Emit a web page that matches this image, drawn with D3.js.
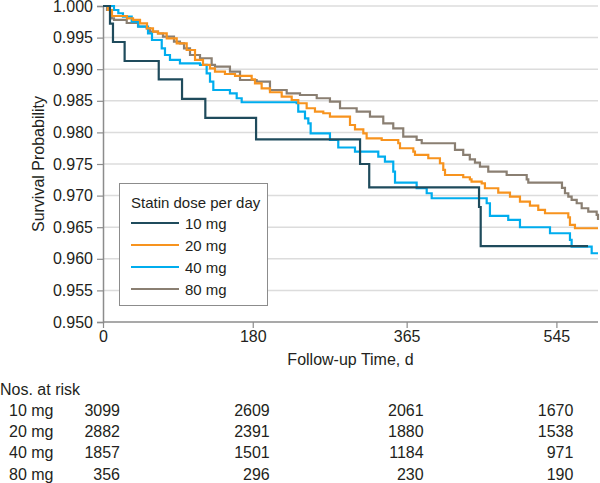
<!DOCTYPE html>
<html><head><meta charset="utf-8">
<script src="https://cdn.jsdelivr.net/npm/d3@7"></script>
<style>
body{margin:0;background:#fff;}
text{font-family:"Liberation Sans",Arial,sans-serif;fill:#231f20;}
</style></head>
<body><svg id="c" width="600" height="483"></svg>
<script>
const doses = ["10 mg", "20 mg", "40 mg", "80 mg"];
const colors = ["#1f4b5c", "#f7931e", "#00adee", "#8a7f72"];
const xTicks = [0, 180, 365, 545];
const yTicks = [0.950, 0.955, 0.960, 0.965, 0.970, 0.975, 0.980, 0.985, 0.990, 0.995, 1.000];

const t10 = [0, 8.4, 12, 26, 67, 95, 123, 184, 309, 320, 452, 454, 583];
const s10 = [1, 0.9972, 0.9943, 0.9913, 0.9884, 0.9853, 0.9823, 0.9789, 0.9750, 0.9713, 0.9682, 0.9620, 0.9620];

const t20 = [0, 6, 10.8, 28.8, 36.1, 44.5, 52.9, 60.1, 66.1, 76.6, 88.6, 100.6, 110.6, 120.2, 128.6, 134.6, 146.6, 158.7, 178.7, 182.7, 190.7, 200.7, 214.8, 226.8, 234.7, 244.8, 254.8, 264.8, 272.8, 296.9, 302.9, 312.9, 316.9, 335, 354.9, 357, 373, 375, 391, 405, 409, 411.1, 433, 441, 443, 455.2, 459.1, 475.1, 489.2, 501.2, 513.2, 523.2, 531.3, 559.3, 561.3, 567.3, 595];
const s20 = [1, 0.99937, 0.99842, 0.99805, 0.99779, 0.99726, 0.99647, 0.99593, 0.99568, 0.99489, 0.99410, 0.99304, 0.99146, 0.99067, 0.99014, 0.98961, 0.98924, 0.98893, 0.98840, 0.98777, 0.98698, 0.98635, 0.98565, 0.98513, 0.98461, 0.98382, 0.98328, 0.98303, 0.98249, 0.98117, 0.98049, 0.97986, 0.97907, 0.97880, 0.97828, 0.97749, 0.97695, 0.97643, 0.97591, 0.97512, 0.97406, 0.97326, 0.97290, 0.97258, 0.97220, 0.97195, 0.97116, 0.97046, 0.96983, 0.96904, 0.96841, 0.96773, 0.96721, 0.96657, 0.96536, 0.96483, 0.96483];

const t40 = [0, 13.2, 18.4, 24, 34.5, 42.4, 54.1, 58.9, 70.6, 74.5, 80.5, 92.5, 116.6, 124.6, 128.6, 132.6, 152.6, 160.7, 166.7, 232.8, 234.7, 242.8, 246.8, 249.6, 272.8, 282.8, 302.9, 330.9, 338.9, 348.9, 351, 377, 389.1, 395.1, 461.2, 465.1, 487.1, 501.2, 537.3, 561.3, 563.3, 587.4, 595];
const s40 = [1, 0.99937, 0.99885, 0.99831, 0.99752, 0.99673, 0.99568, 0.99462, 0.99331, 0.99225, 0.99146, 0.99093, 0.99067, 0.98935, 0.98802, 0.98671, 0.98619, 0.98540, 0.98477, 0.98461, 0.98328, 0.98223, 0.98144, 0.97986, 0.97880, 0.97761, 0.97695, 0.97616, 0.97537, 0.97379, 0.97205, 0.97116, 0.97037, 0.96958, 0.96879, 0.96678, 0.96615, 0.96499, 0.96404, 0.96298, 0.96192, 0.96088, 0.96088];

const t80 = [0, 4.8, 10.5, 13.2, 28.5, 42.1, 52.5, 56.5, 66.1, 72.1, 85.3, 92.5, 97.4, 104.6, 116.6, 130.6, 134.6, 152.6, 164.7, 184.7, 200.7, 220.8, 236.8, 256.9, 272.8, 284.9, 304.9, 320.9, 336.9, 348.9, 360.9, 377, 383.1, 423.1, 433, 440.9, 447.1, 453.1, 463.1, 485.2, 509.3, 511.2, 551.7, 555.3, 559.3, 563.3, 569.4, 575.4, 583.3, 593.4, 595];
const s80 = [1, 0.99937, 0.99805, 0.99779, 0.99731, 0.99676, 0.99647, 0.99593, 0.99565, 0.99514, 0.99435, 0.99410, 0.99331, 0.99225, 0.99173, 0.99067, 0.99040, 0.98961, 0.98829, 0.98802, 0.98671, 0.98619, 0.98592, 0.98540, 0.98486, 0.98382, 0.98328, 0.98249, 0.98144, 0.98065, 0.97932, 0.97880, 0.97828, 0.97722, 0.97643, 0.97574, 0.97521, 0.97458, 0.97379, 0.97326, 0.97258, 0.97205, 0.97123, 0.97037, 0.96983, 0.96931, 0.96879, 0.96800, 0.96746, 0.96694, 0.96614];

const risk10 = [3099, 2609, 2061, 1670];
const risk20 = [2882, 2391, 1880, 1538];
const risk40 = [1857, 1501, 1184, 971];
const risk80 = [356, 296, 230, 190];

const times = [t10, t20, t40, t80];
const surv = [s10, s20, s40, s80];
const risks = [risk10, risk20, risk40, risk80];

const svg = d3.select("#c");
const x = d3.scaleLinear().domain([0, 595]).range([103, 598]);
const y = d3.scaleLinear().domain([0.95, 1.0]).range([322, 6]);

// gridlines
svg.append("g").selectAll("line").data(yTicks.filter(v => v > 0.95)).join("line")
  .attr("x1", x(0)).attr("x2", 598).attr("y1", d => y(d)).attr("y2", d => y(d))
  .attr("stroke", "#dcdcdc").attr("stroke-width", 1.5);

// y axis
const ya = svg.append("g").attr("transform", `translate(${x(0)},0)`)
  .call(d3.axisLeft(y).tickValues(yTicks).tickFormat(d3.format(".3f")).tickSize(6).tickPadding(4));
ya.select(".domain").attr("stroke", "#8c8c8c").attr("stroke-width", 1.5);
ya.selectAll(".tick line").attr("stroke", "#8c8c8c").attr("stroke-width", 1.2);
ya.selectAll(".tick text").attr("font-size", 16).attr("font-family", "Liberation Sans").attr("fill", "#231f20");

// x axis
const xa = svg.append("g").attr("transform", `translate(0,${y(0.95)})`)
  .call(d3.axisBottom(x).tickValues(xTicks).tickFormat(d3.format("d")).tickSize(6).tickPadding(3));
xa.select(".domain").attr("stroke", "#8c8c8c").attr("stroke-width", 1.5).attr("d", `M${x(0)},0H598`);
xa.selectAll(".tick line").attr("stroke", "#8c8c8c").attr("stroke-width", 1.2);
xa.selectAll(".tick text").attr("font-size", 16).attr("font-family", "Liberation Sans").attr("fill", "#231f20");

// curves
const line = d3.line().curve(d3.curveStepAfter).x(d => x(d[0])).y(d => y(d[1]));
const order = [3, 2, 1, 0];
order.forEach(i => {
  const pts = times[i].map((t, j) => [t, surv[i][j]]);
  svg.append("path").datum(pts).attr("d", line)
    .attr("fill", "none").attr("stroke", colors[i]).attr("stroke-width", 2.2);
});

// axis titles
svg.append("text").attr("transform", `translate(38,${(y(0.95) + y(1)) / 2}) rotate(-90)`)
  .attr("text-anchor", "middle").attr("dominant-baseline", "central").attr("font-size", 16)
  .text("Survival Probability");
svg.append("text").attr("x", (x(0) + 598) / 2).attr("y", 359)
  .attr("text-anchor", "middle").attr("dominant-baseline", "central").attr("font-size", 16)
  .text("Follow-up Time, d");

// legend
const lg = svg.append("g");
lg.append("rect").attr("x", 119.5).attr("y", 183.5).attr("width", 148).attr("height", 122)
  .attr("fill", "#fff").attr("stroke", "#8c8c8c").attr("stroke-width", 1);
lg.append("text").attr("x", 131).attr("y", 202).attr("dominant-baseline", "central")
  .attr("font-size", 15).text("Statin dose per day");
doses.forEach((d, i) => {
  const yy = 223 + i * 22;
  lg.append("line").attr("x1", 131).attr("x2", 179).attr("y1", yy).attr("y2", yy)
    .attr("stroke", colors[i]).attr("stroke-width", 2.2);
  lg.append("text").attr("x", 185).attr("y", yy).attr("dominant-baseline", "central")
    .attr("font-size", 15).text(d);
});

// risk table
svg.append("text").attr("x", 0).attr("y", 394.5)
  .attr("font-size", 16).text("Nos. at risk");
doses.forEach((d, i) => {
  const yy = 416 + i * 21.2;
  svg.append("text").attr("x", 9).attr("y", yy)
    .attr("font-size", 16).text(d);
  svg.append("g").selectAll("text").data(risks[i]).join("text")
    .attr("x", (v, j) => x(xTicks[j]) + 17).attr("y", yy)
    .attr("text-anchor", "end")
    .attr("font-size", 16).text(v => v);
});
</script></body></html>
